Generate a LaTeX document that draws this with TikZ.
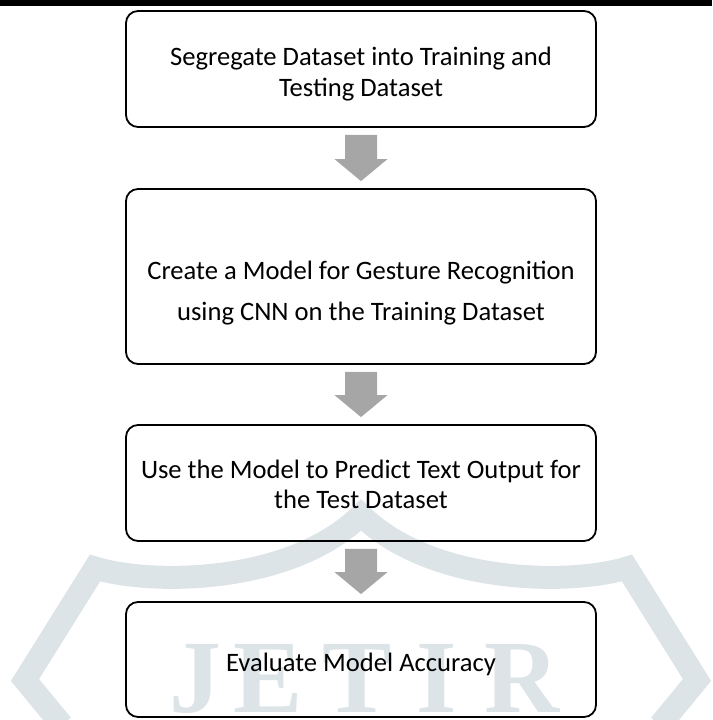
\documentclass[tikz,border=0pt]{standalone}
\usepackage{fontspec}
\setmainfont{Carlito}
\newfontfamily\markfont{Liberation Serif}
\usetikzlibrary{calc}
\definecolor{arrowgray}{RGB}{166,166,166}
\definecolor{markgray}{RGB}{221,228,232}

\begin{document}
\begin{tikzpicture}[x=1pt, y=1pt,
  stepbox/.style={draw, line width=1.8pt, rounded corners=12pt, minimum width=470pt,
    align=center, inner sep=0pt, font=\fontsize{26.6}{31}\selectfont,
    text height=31pt, text depth=6pt},
  blockarrow/.style={fill=arrowgray},
  markletter/.style={text=markgray, inner sep=0pt, anchor=base,
    font=\markfont\bfseries\fontsize{104}{104}\selectfont}]
\useasboundingbox (0,0) rectangle (712,720);
% watermark behind the flow
\begin{scope}
\clip (0,0) rectangle (712,720);
\draw[markgray, line width=23pt, line join=miter] (62,-5) -- (25,40) -- (95,152)
  .. controls (150,135) and (290,135) .. (361,205)
  .. controls (432,135) and (572,135) .. (627,152) -- (697,40) -- (660,-5);
\foreach \ch/\x [count=\i] in {J/195, E/268, T/357, I/437, R/522}
  \node[markletter] (mark\i) at (\x,8) {\ch};
\end{scope}
% top rule
\fill (0,714) rectangle (712,720);
% steps
\node[stepbox, minimum height=116pt, text height=62pt] (seg) at (361,651)
  {Segregate Dataset into Training and\\Testing Dataset};
\node[stepbox, minimum height=175pt, text height=95pt] (cnn) at (361,443.5)
  {Create a Model for Gesture Recognition\\[10pt]using CNN on the Training Dataset};
\node[stepbox, minimum height=116pt, text height=58pt] (pred) at (361,237)
  {Use the Model to Predict Text Output for\\[-1pt]the Test Dataset};
\node[stepbox, minimum height=115pt] (eval) at (361,60.5) {Evaluate Model Accuracy};
% block arrows
\foreach \from/\to in {seg/cnn, cnn/pred, pred/eval}
  \fill[blockarrow] ($(\from.south)+(-16,-7)$) -- ($(\from.south)+(16,-7)$)
    -- ($(\to.north)+(16,29)$) -- ($(\to.north)+(26.5,29)$) -- ($(\to.north)+(0,7)$)
    -- ($(\to.north)+(-26.5,29)$) -- ($(\to.north)+(-16,29)$) -- cycle;
\end{tikzpicture}
\end{document}
